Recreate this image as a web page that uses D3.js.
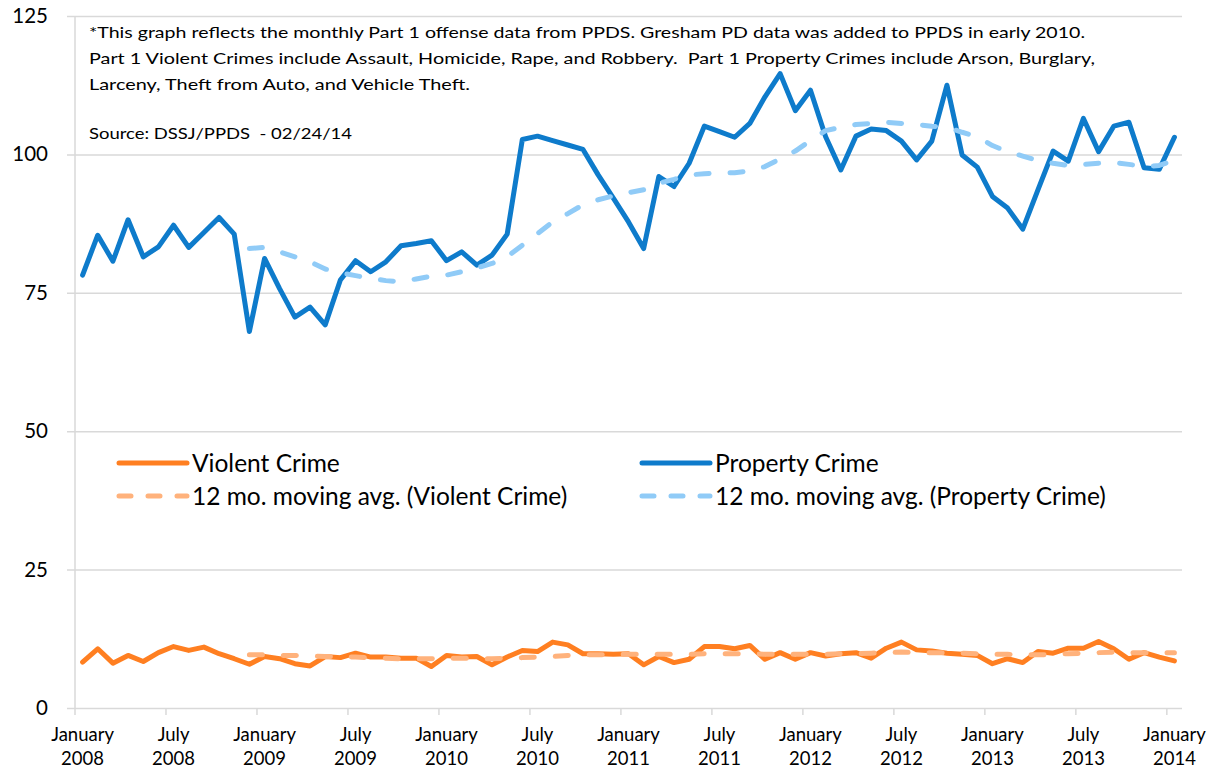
<!DOCTYPE html>
<html>
<head>
<meta charset="utf-8">
<script src="https://cdn.jsdelivr.net/npm/d3@7"></script>
<style>
  body { margin: 0; background: #fff; }
  svg { display: block; font-family: Lato, "Open Sans", sans-serif; }
</style>
</head>
<body>
<div id="chart"></div>
<script>
// monthly Part 1 offenses, Jan 2008 - Jan 2014
var months = d3.timeMonth.range(new Date(2008, 0, 1), new Date(2014, 1, 1));

var propertyCrime = [78.2, 85.4, 80.7, 88.2, 81.5, 83.3, 87.2, 83.2, 85.9, 88.6, 85.6, 68.0,
    81.2, 75.7, 70.6, 72.4, 69.2, 77.3, 80.8, 78.8, 80.6, 83.5, 83.9, 84.4,
    80.8, 82.4, 80.0, 81.8, 85.6, 102.7, 103.3, 102.5, 101.7, 100.9, 96.3, 92.1,
    87.8, 83.0, 96.0, 94.2, 98.4, 105.1, 104.1, 103.1, 105.6, 110.4, 114.6, 107.9,
    111.6, 103.2, 97.2, 103.3, 104.6, 104.3, 102.4, 99.0, 102.4, 112.5, 99.9, 97.7,
    92.4, 90.3, 86.5, 93.6, 100.6, 98.8, 106.5, 100.5, 105.1, 105.8, 97.6, 97.3,
    103.1];

var violentCrime = [8.3, 10.7, 8.1, 9.5, 8.4, 10.0, 11.1, 10.4, 11.0, 9.8, 8.9, 7.9,
    9.3, 8.9, 8.0, 7.6, 9.3, 9.1, 9.9, 9.2, 9.2, 9.0, 9.0, 7.5,
    9.5, 9.2, 9.3, 7.8, 9.2, 10.4, 10.2, 11.9, 11.4, 9.8, 9.8, 9.7,
    9.8, 7.8, 9.3, 8.2, 8.8, 11.1, 11.1, 10.7, 11.3, 8.8, 10.0, 8.8,
    10.0, 9.4, 9.8, 10.0, 9.0, 10.8, 11.9, 10.5, 10.3, 9.9, 9.7, 9.5,
    8.0, 8.9, 8.2, 10.2, 9.9, 10.8, 10.8, 12.0, 10.7, 8.8, 10.0, 9.2,
    8.5];

// 12 month moving averages, starting at Dec 2008 (month index 11)
var avgStart = 11;
var propertyAvg = [83.0,
    83.2, 82.4, 81.5, 80.6, 79.3, 78.6, 78.1, 77.6, 77.2, 77.0, 77.5, 78.0,
    78.2, 78.8, 79.5, 80.3, 81.5, 83.6, 85.7, 87.8, 89.3, 90.9, 91.8, 92.5,
    93.1, 93.6, 94.8, 95.5, 96.3, 96.5, 96.7, 96.7, 97.0, 97.8, 99.2, 100.6,
    102.5, 104.3, 104.9, 105.4, 105.6, 105.8, 105.6, 105.4, 105.1, 104.9, 104.0, 103.2,
    101.6, 100.5, 99.7, 98.9, 98.4, 98.0, 98.2, 98.4, 98.5, 98.2, 97.8, 98.0,
    99.0];

var violentAvg = [9.6,
    9.6, 9.5, 9.5, 9.4, 9.3, 9.3, 9.2, 9.1, 9.0, 8.9, 8.9, 8.9,
    9.0, 9.0, 8.9, 8.9, 9.0, 9.1, 9.2, 9.3, 9.5, 9.6, 9.6, 9.7,
    9.7, 9.7, 9.7, 9.7, 9.7, 9.8, 9.8, 9.8, 9.8, 9.7, 9.7, 9.7,
    9.7, 9.7, 9.8, 9.8, 9.9, 10.0, 10.1, 10.0, 10.0, 10.0, 9.9, 9.8,
    9.7, 9.7, 9.6, 9.6, 9.7, 9.8, 9.9, 10.0, 10.1, 10.0, 10.0, 10.0,
    10.0];

var yTicks = [0, 25, 50, 75, 100, 125];

var noteLines = [
    "*This graph reflects the monthly Part 1 offense data from PPDS. Gresham PD data was added to PPDS in early 2010.",
    "Part 1 Violent Crimes include Assault, Homicide, Rape, and Robbery.  Part 1 Property Crimes include Arson, Burglary,",
    "Larceny, Theft from Auto, and Vehicle Theft."
];
var sourceLine = "Source: DSSJ/PPDS  - 02/24/14";

var width = 1217, height = 773;
var plot = {left: 75, right: 1182, top: 16, bottom: 708};

var svg = d3.select("#chart").append("svg")
    .attr("width", width)
    .attr("height", height);

var x = d3.scaleBand()
    .domain(d3.range(months.length))
    .range([plot.left, plot.right]);

var y = d3.scaleLinear()
    .domain([0, 125])
    .range([plot.bottom, plot.top]);

var cx = function (i) { return x(i) + x.bandwidth() / 2; };

// gridlines + y axis
var yAxis = svg.append("g")
    .attr("transform", "translate(" + plot.left + ",0)")
    .call(d3.axisLeft(y).tickValues(yTicks).tickPadding(27)
        .tickSizeInner(-(plot.right - plot.left)).tickSizeOuter(0));
yAxis.select(".domain").remove();
yAxis.selectAll(".tick line")
    .attr("x1", -8)
    .attr("stroke", "#d9d9d9")
    .attr("stroke-width", 1.5);
yAxis.selectAll(".tick text")
    .attr("font-size", "20.5px")
    .attr("fill", "#000")
    .attr("font-family", "Lato, sans-serif");

// vertical axis line
svg.append("line")
    .attr("x1", plot.left).attr("x2", plot.left)
    .attr("y1", plot.top).attr("y2", plot.bottom)
    .attr("stroke", "#d9d9d9")
    .attr("stroke-width", 1.5);

// x axis: ticks at category edges every 6 months
var tickIdx = d3.range(0, months.length, 6);
var xAxis = svg.append("g").attr("class", "xaxis");
xAxis.selectAll("line.tk")
    .data(tickIdx)
    .enter().append("line")
    .attr("class", "tk")
    .attr("x1", function (d) { return x(d); })
    .attr("x2", function (d) { return x(d); })
    .attr("y1", plot.bottom)
    .attr("y2", plot.bottom + 7)
    .attr("stroke", "#d9d9d9")
    .attr("stroke-width", 1.5);

var fmtMonth = d3.timeFormat("%B"), fmtYear = d3.timeFormat("%Y");
var xLabels = xAxis.selectAll("text")
    .data(tickIdx)
    .enter().append("text")
    .attr("x", function (d) { return cx(d); })
    .attr("text-anchor", "middle")
    .attr("font-size", "18.5px")
    .attr("fill", "#000");
xLabels.append("tspan")
    .attr("x", function (d) { return cx(d); })
    .attr("y", 741)
    .text(function (d) { return fmtMonth(months[d]); });
xLabels.append("tspan")
    .attr("x", function (d) { return cx(d); })
    .attr("y", 765)
    .text(function (d) { return fmtYear(months[d]); });

// note text
var note = svg.append("g").attr("font-size", "16px").attr("fill", "#000");
note.selectAll("text")
    .data(noteLines)
    .enter().append("text")
    .attr("x", 89)
    .attr("y", function (d, i) { return 38 + i * 26; })
    .attr("textLength", function (d, i) { return [996, 1006, 381][i]; })
    .attr("lengthAdjust", "spacingAndGlyphs")
    .style("white-space", "pre")
    .text(function (d) { return d; });
note.append("text")
    .attr("x", 89)
    .attr("y", 139)
    .attr("textLength", 263)
    .attr("lengthAdjust", "spacingAndGlyphs")
    .style("white-space", "pre")
    .text(sourceLine);

// series
var line = d3.line()
    .x(function (d) { return cx(d[0]); })
    .y(function (d) { return y(d[1]); });

function pairs(values, start) {
    return values.map(function (v, i) { return [i + start, v]; });
}

var series = [
    {key: "Violent Crime", values: pairs(violentCrime, 0), color: "#ff7f21", width: 5, dash: null},
    {key: "Property Crime", values: pairs(propertyCrime, 0), color: "#0e7bcb", width: 5, dash: null},
    {key: "12 mo. moving avg. (Violent Crime)", values: pairs(violentAvg, avgStart), color: "#ffb27c", width: 5, dash: "13,21"},
    {key: "12 mo. moving avg. (Property Crime)", values: pairs(propertyAvg, avgStart), color: "#90cbf7", width: 5, dash: "13,21"}
];

svg.append("g")
    .selectAll("path")
    .data(series)
    .enter().append("path")
    .attr("d", function (d) { return line(d.values); })
    .attr("fill", "none")
    .attr("stroke", function (d) { return d.color; })
    .attr("stroke-width", function (d) { return d.width; })
    .attr("stroke-linejoin", "round")
    .attr("stroke-linecap", "round")
    .attr("stroke-dasharray", function (d) { return d.dash; });

// legend
var legendPos = [[117, 463], [640, 463], [117, 496], [640, 496]];
var legend = svg.append("g")
    .selectAll("g")
    .data(series)
    .enter().append("g")
    .attr("transform", function (d, i) { return "translate(" + legendPos[i][0] + "," + legendPos[i][1] + ")"; });
legend.append("line")
    .attr("x1", 2).attr("x2", 70)
    .attr("stroke", function (d) { return d.color; })
    .attr("stroke-width", function (d) { return d.width; })
    .attr("stroke-linecap", "round")
    .attr("stroke-dasharray", function (d) { return d.dash ? "12,17" : null; });
legend.append("text")
    .attr("x", 75)
    .attr("dy", "0.35em")
    .attr("font-size", "24.5px")
    .attr("fill", "#000")
    .text(function (d) { return d.key; });
</script>
</body>
</html>
